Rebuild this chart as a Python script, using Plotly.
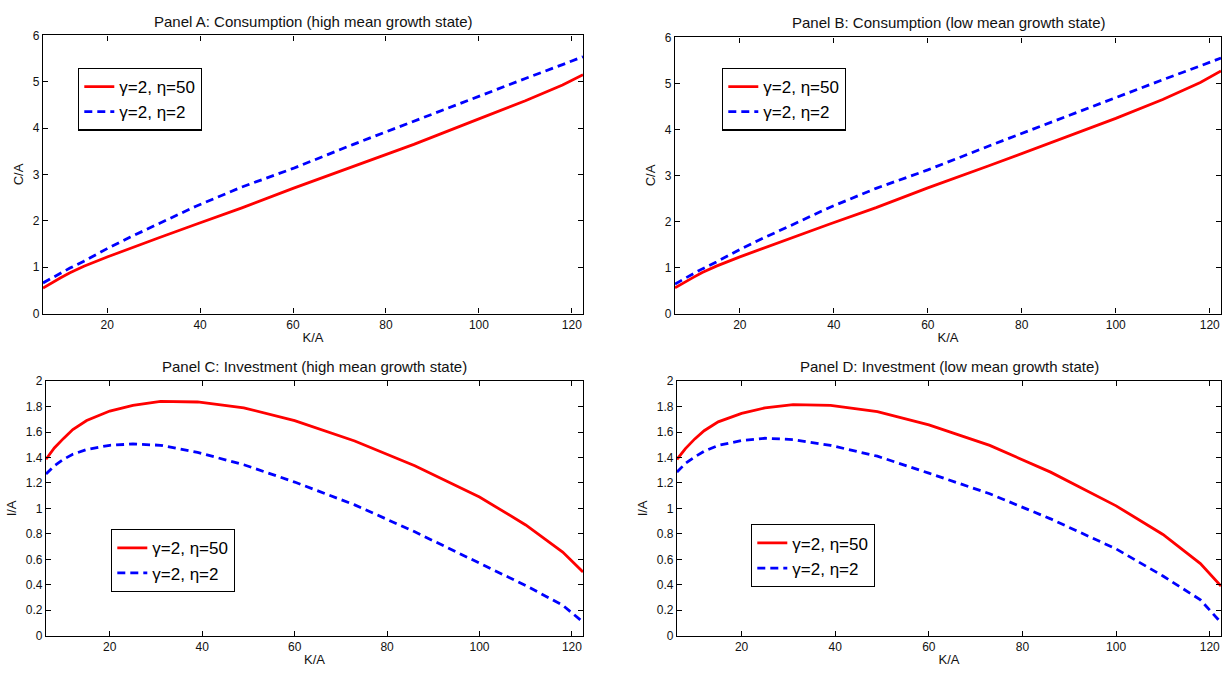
import plotly.graph_objects as go

# Capital grid (K/A) on which the policy functions are evaluated
k_grid = [6.2, 8, 10, 12, 15, 20, 25, 31, 39, 49, 60, 73, 86, 100, 110, 118, 122.4]

# Consumption policy, high mean growth state
cons_high_eta50 = [0.55, 0.66, 0.77, 0.88, 1.02, 1.22, 1.41, 1.63, 1.92, 2.28, 2.70, 3.17, 3.65, 4.20, 4.59, 4.93, 5.15]
cons_high_eta2 = [0.66, 0.76, 0.87, 0.98, 1.13, 1.40, 1.65, 1.93, 2.31, 2.73, 3.13, 3.65, 4.15, 4.70, 5.07, 5.37, 5.54]

# Consumption policy, low mean growth state
cons_low_eta50 = [0.56, 0.67, 0.78, 0.89, 1.03, 1.23, 1.42, 1.65, 1.94, 2.30, 2.73, 3.21, 3.70, 4.24, 4.65, 5.02, 5.27]
cons_low_eta2 = [0.64, 0.75, 0.86, 0.97, 1.12, 1.39, 1.64, 1.92, 2.30, 2.72, 3.12, 3.64, 4.15, 4.70, 5.08, 5.38, 5.55]

# Investment policy, high mean growth state
inv_high_eta50 = [1.386, 1.475, 1.55, 1.62, 1.69, 1.765, 1.81, 1.84, 1.836, 1.79, 1.69, 1.53, 1.335, 1.09, 0.87, 0.657, 0.50]
inv_high_eta2 = [1.27, 1.335, 1.386, 1.425, 1.463, 1.496, 1.506, 1.496, 1.44, 1.343, 1.207, 1.028, 0.816, 0.568, 0.394, 0.24, 0.107]

# Investment policy, low mean growth state
inv_low_eta50 = [1.385, 1.47, 1.546, 1.61, 1.68, 1.746, 1.79, 1.815, 1.81, 1.76, 1.656, 1.495, 1.285, 1.02, 0.795, 0.567, 0.39]
inv_low_eta2 = [1.285, 1.354, 1.405, 1.449, 1.495, 1.533, 1.551, 1.541, 1.495, 1.41, 1.277, 1.115, 0.918, 0.682, 0.469, 0.282, 0.103]

series_names = ["\u03b3=2, \u03b7=50", "\u03b3=2, \u03b7=2"]
panel_titles = [
    "Panel A: Consumption (high mean growth state)",
    "Panel B: Consumption (low mean growth state)",
    "Panel C: Investment (high mean growth state)",
    "Panel D: Investment (low mean growth state)",
]
x_ticks = [20, 40, 60, 80, 100, 120]
cons_ticks = [0, 1, 2, 3, 4, 5, 6]
inv_ticks = [0, 0.2, 0.4, 0.6, 0.8, 1, 1.2, 1.4, 1.6, 1.8, 2]
inv_ticktext = ["0", "0.2", "0.4", "0.6", "0.8", "1", "1.2", "1.4", "1.6", "1.8", "2"]

W, H = 1223, 677
FONT = "Liberation Sans, Arial, sans-serif"

# Panel boxes in pixels: (left, right, top, bottom)
boxes = [
    (43, 583, 29, 313),
    (675, 1221, 31, 313),
    (46, 583, 382, 642),
    (677, 1221, 382, 642),
]
# Legend top-left corners in pixels
legend_pos = [(78, 62), (722, 62), (111, 533), (751, 528)]
title_y = [15, 16, 367, 367]

panels = [
    (cons_high_eta50, cons_high_eta2, "C/A", cons_ticks, [str(t) for t in cons_ticks], [0, 6]),
    (cons_low_eta50, cons_low_eta2, "C/A", cons_ticks, [str(t) for t in cons_ticks], [0, 6]),
    (inv_high_eta50, inv_high_eta2, "I/A", inv_ticks, inv_ticktext, [0, 2]),
    (inv_low_eta50, inv_low_eta2, "I/A", inv_ticks, inv_ticktext, [0, 2]),
]

fig = go.Figure()
layout = dict(
    width=W, height=H,
    margin=dict(l=0, r=0, t=0, b=0),
    paper_bgcolor="white", plot_bgcolor="white",
    font=dict(family=FONT, size=12, color="black"),
    annotations=[],
)

for i, (red, blue, ylab, yt, ytt, yr) in enumerate(panels):
    n = i + 1
    sfx = "" if n == 1 else str(n)
    leg = "legend" if n == 1 else f"legend{n}"
    fig.add_trace(go.Scatter(
        x=k_grid, y=red, mode="lines", name=series_names[0],
        line=dict(color="#ff0000", width=2.8),
        xaxis=f"x{sfx}", yaxis=f"y{sfx}", legend=leg,
    ))
    fig.add_trace(go.Scatter(
        x=k_grid, y=blue, mode="lines", name=series_names[1],
        line=dict(color="#0000ff", width=2.8, dash="8px,5px"),
        xaxis=f"x{sfx}", yaxis=f"y{sfx}", legend=leg,
    ))
    l, r, t, b = boxes[i]
    axis_common = dict(
        showline=True, linecolor="black", linewidth=1.3, mirror="ticks",
        ticks="inside", ticklen=5, tickcolor="black", tickwidth=1,
        showgrid=False, zeroline=False,
        tickfont=dict(family=FONT, size=12, color="#111"),
    )
    layout[f"xaxis{sfx}"] = dict(
        axis_common, domain=[l / W, r / W], range=[6.2, 122.4],
        tickvals=x_ticks, ticktext=[str(v) for v in x_ticks],
        anchor=f"y{sfx}",
        title=dict(text="K/A", font=dict(family=FONT, size=13, color="#111"), standoff=1),
    )
    layout[f"yaxis{sfx}"] = dict(
        axis_common, domain=[1 - b / H, 1 - t / H], range=yr,
        tickvals=yt, ticktext=ytt, anchor=f"x{sfx}",
        title=dict(text=ylab, font=dict(family=FONT, size=13, color="#111"), standoff=6),
    )
    lx, ly = legend_pos[i]
    layout[leg] = dict(
        x=lx / W, y=1 - ly / H, xanchor="left", yanchor="top",
        bgcolor="white", bordercolor="black", borderwidth=1.3,
        font=dict(family=FONT, size=17, color="black"),
        tracegroupgap=0, itemwidth=30,
    )
    layout["annotations"].append(dict(
        text=panel_titles[i], x=(l + r) / 2 / W, y=1 - title_y[i] / H,
        xref="paper", yref="paper", xanchor="center", yanchor="middle",
        showarrow=False, font=dict(family=FONT, size=15, color="#111"),
    ))

fig.update_layout(**layout)
fig.write_html("out.html")
